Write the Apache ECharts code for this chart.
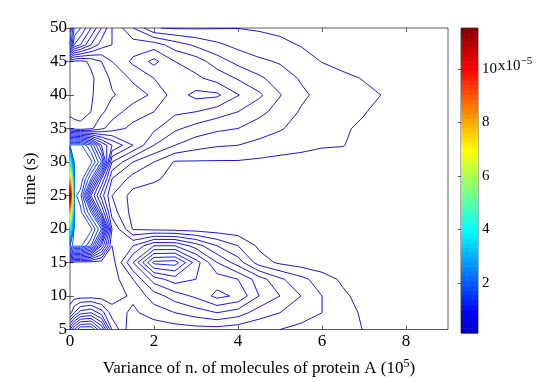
<!DOCTYPE html>
<html>
<head>
<meta charset="utf-8">
<script src="https://cdn.jsdelivr.net/npm/echarts@6/dist/echarts.min.js"></script>
<style>
  html, body { margin: 0; padding: 0; background: #fff; }
  #chart { width: 545px; height: 382px; }
</style>
</head>
<body>
<div id="chart"></div>
<script>
// grid of the estimated probability density, values in units of 1e-6
const xGrid = [0, 0.1, 0.25, 0.5, 0.75, 1, 1.5, 2, 2.5, 3, 3.5, 4, 4.5, 5, 5.5, 6, 6.5, 7, 7.5, 8, 9];
const tGrid = [5, 7.5, 10, 12.5, 15, 17.5, 20, 22.5, 25, 27.5, 30, 32.5, 35, 37.5, 40, 42.5, 45, 47.5, 50];
const density = [
  [9, 11, 13, 13, 10, 5, 2, 2.3, 2.5, 2.6, 2.6, 2.4, 2.2, 2.0, 1.7, 1.5, 1.2, 0.98, 0.5, 0.2, 0.1],
  [3.5, 5, 6.5, 7, 5.5, 3.5, 2.8, 3.5, 4, 4.5, 5, 4.5, 3.5, 3, 2.5, 2, 1.5, 0.8, 0.4, 0.2, 0.1],
  [2.5, 2.5, 2.5, 2.5, 2.5, 2.5, 3.2, 4.5, 5.5, 6.2, 7.3, 6.8, 5, 4, 3, 2, 1.2, 0.6, 0.3, 0.2, 0.1],
  [2.5, 2.5, 2.5, 2.5, 2.5, 2.5, 4, 6.5, 7.5, 7, 6.5, 6, 4.5, 3.2, 2.3, 1.5, 0.8, 0.4, 0.2, 0.1, 0.1],
  [3, 2.5, 2.5, 2.5, 2.5, 2.5, 6, 10.3, 10.5, 7.5, 5, 3.5, 1.5, 0.8, 0.5, 0.3, 0.2, 0.1, 0.1, 0.1, 0.1],
  [18, 16.3, 16.3, 14, 8, 3, 4, 6, 6, 4.5, 3, 2, 0.8, 0.4, 0.2, 0.1, 0.1, 0.1, 0.1, 0.1, 0.1],
  [40, 16.3, 16.8, 16.3, 13, 4, 0.9, 0.7, 0.6, 0.5, 0.4, 0.35, 0.3, 0.2, 0.1, 0.1, 0.1, 0.1, 0.1, 0.1, 0.1],
  [80, 16.3, 16.3, 13, 7, 2.5, 0.6, 0.4, 0.3, 0.2, 0.1, 0.1, 0.1, 0.1, 0.1, 0.1, 0.1, 0.1, 0.1, 0.1, 0.1],
  [115, 16.3, 15.5, 8, 4.5, 2, 0.6, 0.3, 0.2, 0.1, 0.1, 0.1, 0.1, 0.1, 0.1, 0.1, 0.1, 0.1, 0.1, 0.1, 0.1],
  [80, 16.3, 16.8, 13, 7, 3, 1.6, 1.2, 0.6, 0.3, 0.2, 0.1, 0.1, 0.1, 0.1, 0.1, 0.1, 0.1, 0.1, 0.1, 0.1],
  [40, 16.3, 16.3, 16.3, 13, 5, 3, 2, 0.9, 0.9, 0.9, 0.9, 0.8, 0.7, 0.6, 0.5, 0.4, 0.2, 0.1, 0.1, 0.1],
  [16.3, 16.3, 16.3, 14, 10, 8, 6, 4, 3, 2.4, 2.1, 2.0, 1.7, 1.45, 1.3, 1.1, 1.05, 0.5, 0.2, 0.1, 0.1],
  [3, 2.5, 2.3, 2.8, 3.8, 4.5, 5.3, 5.2, 4.2, 3.6, 3.2, 3.0, 2.5, 2.1, 1.6, 1.3, 1.1, 0.85, 0.4, 0.2, 0.1],
  [1.6, 1.6, 1.6, 2.0, 2.8, 3.5, 4.5, 5.0, 5.2, 5.0, 4.5, 4.0, 3.3, 2.6, 1.9, 1.5, 1.25, 1.05, 0.7, 0.3, 0.1],
  [1.5, 1.5, 1.5, 1.9, 2.4, 2.9, 3.5, 4.2, 5.5, 6.3, 6.2, 5.05, 4.2, 3.05, 2.2, 1.7, 1.45, 1.2, 0.95, 0.5, 0.1],
  [1.5, 1.5, 1.5, 1.8, 2.5, 3.2, 4.2, 5.0, 5.3, 5.2, 4.6, 3.9, 3.2, 2.5, 1.9, 1.5, 1.2, 0.95, 0.6, 0.3, 0.1],
  [2, 1.8, 1.7, 2.2, 3.0, 4.0, 5.2, 6.3, 5.0, 4.5, 3.5, 2.7, 2.2, 1.9, 1.4, 0.97, 0.7, 0.4, 0.2, 0.1, 0.1],
  [14, 10, 9, 7, 5.5, 5, 4.5, 4.5, 3.5, 2.8, 2.2, 1.7, 1.4, 1.2, 0.95, 0.6, 0.4, 0.2, 0.1, 0.1, 0.1],
  [15, 12, 11, 9, 7, 5, 3, 1.05, 0.9, 0.9, 0.95, 0.98, 0.9, 0.8, 0.6, 0.3, 0.2, 0.1, 0.1, 0.1, 0.1]
];
const contourLevels = Array.from({ length: 115 }, (_, k) => k + 1); // 1e-6 steps
const xTicks = [0, 2, 4, 6, 8];
const cbarTicks = [2, 4, 6, 8, 10];
const cbarRange = [0.13, 11.53]; // x 1e-5

const FONT = 'Liberation Serif';

// jet colour map, starting from a bright blue as in the reference colorbar
function jet(f) {
  const g = 0.06 + 0.94 * f;
  const c = v => Math.round(255 * Math.max(0, Math.min(1, v)));
  return 'rgb(' + c(1.5 - Math.abs(4 * g - 3)) + ',' + c(1.5 - Math.abs(4 * g - 2)) + ',' + c(1.5 - Math.abs(4 * g - 1)) + ')';
}
const colorOf = z => jet((z / 10 - cbarRange[0]) / (cbarRange[1] - cbarRange[0]));

// marching squares on the rectilinear grid
function segmentsAt(level) {
  const out = [];
  for (let j = 0; j < tGrid.length - 1; j++) {
    for (let i = 0; i < xGrid.length - 1; i++) {
      const c = [
        [xGrid[i], tGrid[j], density[j][i]],
        [xGrid[i + 1], tGrid[j], density[j][i + 1]],
        [xGrid[i + 1], tGrid[j + 1], density[j + 1][i + 1]],
        [xGrid[i], tGrid[j + 1], density[j + 1][i]]
      ];
      const pts = [];
      for (let k = 0; k < 4; k++) {
        const a = c[k], b = c[(k + 1) % 4];
        if ((a[2] >= level) !== (b[2] >= level)) {
          const f = (level - a[2]) / (b[2] - a[2]);
          pts[k] = [a[0] + f * (b[0] - a[0]), a[1] + f * (b[1] - a[1])];
        }
      }
      const ks = [0, 1, 2, 3].filter(k => pts[k]);
      if (ks.length === 2) {
        out.push([pts[ks[0]], pts[ks[1]]]);
      } else if (ks.length === 4) {
        const centerHigh = (c[0][2] + c[1][2] + c[2][2] + c[3][2]) / 4 >= level;
        if ((c[0][2] >= level) === centerHigh) out.push([pts[0], pts[1]], [pts[2], pts[3]]);
        else out.push([pts[3], pts[0]], [pts[1], pts[2]]);
      }
    }
  }
  return out;
}

function chain(segs) {
  const key = p => p[0].toFixed(6) + ',' + p[1].toFixed(6);
  const adj = new Map();
  segs.forEach((s, idx) => {
    s.forEach(p => {
      const k = key(p);
      if (!adj.has(k)) adj.set(k, []);
      adj.get(k).push(idx);
    });
  });
  const used = segs.map(() => false);
  const lines = [];
  for (let s0 = 0; s0 < segs.length; s0++) {
    if (used[s0]) continue;
    used[s0] = true;
    let line = [segs[s0][0], segs[s0][1]];
    for (let dir = 0; dir < 2; dir++) {
      let more = true;
      while (more) {
        more = false;
        const end = line[line.length - 1];
        const ek = key(end);
        for (const idx of adj.get(ek)) {
          if (used[idx]) continue;
          used[idx] = true;
          const s = segs[idx];
          line.push(key(s[0]) === ek ? s[1] : s[0]);
          more = true;
          break;
        }
      }
      line.reverse();
    }
    lines.push(line);
  }
  return lines;
}

const contourData = [];
contourLevels.forEach(L => {
  const color = colorOf(L);
  chain(segmentsAt(L)).forEach(line => {
    contourData.push({ coords: line, lineStyle: { color: color } });
  });
});

// colorbar bins (64 colours of the map)
const nBins = 64;
const cbarBins = [];
for (let b = 0; b < nBins; b++) {
  const lo = cbarRange[0] + (cbarRange[1] - cbarRange[0]) * b / nBins;
  const hi = cbarRange[0] + (cbarRange[1] - cbarRange[0]) * (b + 1) / nBins;
  cbarBins.push([lo, hi, jet((b + 0.5) / nBins)]);
}

const tickStyle = { inside: true, length: 4, lineStyle: { color: '#333', width: 0.8 } };
const labelStyle = { fontFamily: FONT, fontSize: 17, color: '#000' };

const chart = echarts.init(document.getElementById('chart'), null, { renderer: 'canvas' });
chart.setOption({
  animation: false,
  backgroundColor: '#fff',
  grid: [
    { left: 70, top: 28, width: 378, height: 305, show: true, borderColor: '#333', borderWidth: 0.8, backgroundColor: '#fff' },
    { left: 461, top: 28, width: 17, height: 305, show: true, borderColor: '#333', borderWidth: 0.8 }
  ],
  xAxis: [
    {
      gridIndex: 0, type: 'value', min: 0, max: 9, interval: 2,
      axisLine: { show: false }, splitLine: { show: false },
      axisTick: Object.assign({ customValues: xTicks }, tickStyle),
      axisLabel: Object.assign({ customValues: xTicks, margin: 4 }, labelStyle),
      name: '{a|Variance of n. of molecules of protein A (10}{s|5}{a|)}',
      nameLocation: 'middle', nameGap: 28,
      nameTextStyle: {
        rich: {
          a: { fontFamily: FONT, fontSize: 17, color: '#000' },
          s: { fontFamily: FONT, fontSize: 12, color: '#000', padding: [0, 0, 10, 0] }
        }
      }
    },
    {
      gridIndex: 0, type: 'value', min: 0, max: 9, interval: 2, position: 'top',
      axisLine: { show: false }, splitLine: { show: false },
      axisTick: Object.assign({ customValues: xTicks }, tickStyle),
      axisLabel: { show: false }
    },
    { gridIndex: 1, type: 'value', min: 0, max: 1, show: false }
  ],
  yAxis: [
    {
      gridIndex: 0, type: 'value', min: 5, max: 50, interval: 5,
      axisLine: { show: false }, splitLine: { show: false },
      axisTick: tickStyle,
      axisLabel: Object.assign({ margin: 3 }, labelStyle),
      name: 'time (s)', nameLocation: 'middle', nameGap: 22, nameRotate: 90,
      nameTextStyle: { fontFamily: FONT, fontSize: 17, color: '#000' }
    },
    {
      gridIndex: 0, type: 'value', min: 5, max: 50, interval: 5, position: 'right',
      axisLine: { show: false }, splitLine: { show: false },
      axisTick: tickStyle, axisLabel: { show: false }
    },
    {
      gridIndex: 1, type: 'value', min: cbarRange[0], max: cbarRange[1], position: 'right',
      axisLine: { show: false }, splitLine: { show: false },
      axisTick: Object.assign({ customValues: cbarTicks }, tickStyle, { length: 3 }),
      axisLabel: Object.assign({ customValues: cbarTicks, margin: 4 }, labelStyle, { fontSize: 15 })
    },
    {
      gridIndex: 1, type: 'value', min: cbarRange[0], max: cbarRange[1], position: 'left',
      axisLine: { show: false }, splitLine: { show: false },
      axisTick: Object.assign({ customValues: cbarTicks }, tickStyle, { length: 3 }),
      axisLabel: { show: false }
    }
  ],
  graphic: [
    {
      type: 'text', left: 498, top: 56,
      style: {
        text: '{a|x10}{s|−5}',
        rich: {
          a: { fontFamily: FONT, fontSize: 15, fill: '#000' },
          s: { fontFamily: FONT, fontSize: 11, fill: '#000', padding: [0, 0, 9, 0] }
        }
      }
    }
  ],
  series: [
    {
      type: 'custom', xAxisIndex: 2, yAxisIndex: 2, silent: true,
      data: cbarBins,
      renderItem: function (params, api) {
        const p0 = api.coord([0, api.value(0)]);
        const p1 = api.coord([1, api.value(1)]);
        return {
          type: 'rect',
          shape: { x: p0[0], y: p1[1], width: p1[0] - p0[0], height: p0[1] - p1[1] + 0.5 },
          style: { fill: cbarBins[params.dataIndex][2] }
        };
      }
    },
    {
      type: 'lines', coordinateSystem: 'cartesian2d', xAxisIndex: 0, yAxisIndex: 0,
      polyline: true, silent: true,
      lineStyle: { width: 0.9, opacity: 1 },
      data: contourData
    }
  ]
});
</script>
</body>
</html>
